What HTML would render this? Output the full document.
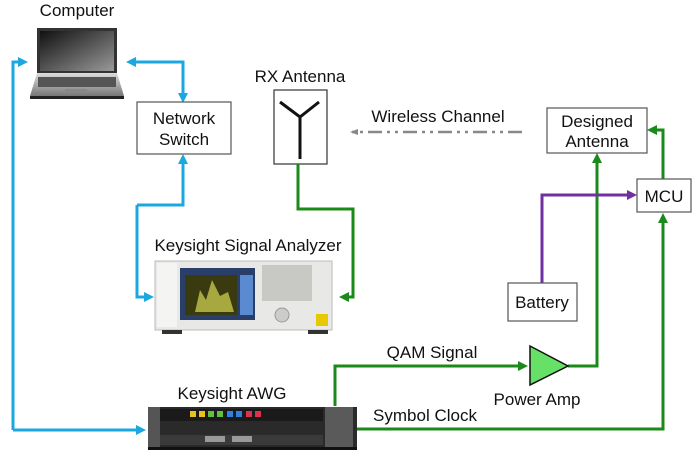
<!DOCTYPE html>
<html><head><meta charset="utf-8"><style>
body{margin:0;background:#fff;width:698px;height:459px;overflow:hidden}
text{font-family:"Liberation Sans",Arial,sans-serif;font-size:17px;fill:#111}
</style></head><body>
<svg width="698" height="459" viewBox="0 0 698 459" xmlns="http://www.w3.org/2000/svg">
<defs>
<marker id="ab" markerWidth="10" markerHeight="10" refX="7" refY="5" orient="auto" markerUnits="userSpaceOnUse"><path d="M0,0 L10,5 L0,10 Z" fill="#1ba8e0"/></marker>
<marker id="ag" markerWidth="10" markerHeight="10" refX="7" refY="5" orient="auto" markerUnits="userSpaceOnUse"><path d="M0,0 L10,5 L0,10 Z" fill="#1a8a1a"/></marker>
<marker id="ap" markerWidth="10" markerHeight="10" refX="7" refY="5" orient="auto" markerUnits="userSpaceOnUse"><path d="M0,0 L10,5 L0,10 Z" fill="#7030a0"/></marker>
<marker id="agr" markerWidth="8" markerHeight="8" refX="6" refY="4" orient="auto" markerUnits="userSpaceOnUse"><path d="M0,1 L8,4 L0,7 Z" fill="#888"/></marker>
<linearGradient id="scr" x1="0" y1="0" x2="1" y2="1"><stop offset="0" stop-color="#111"/><stop offset="0.5" stop-color="#555"/><stop offset="1" stop-color="#999"/></linearGradient>
<linearGradient id="base" x1="0" y1="0" x2="0" y2="1"><stop offset="0" stop-color="#ddd"/><stop offset="1" stop-color="#777"/></linearGradient>
</defs>

<text x="77" y="16" text-anchor="middle">Computer</text>
<path d="M37,28 L117,28 L117,73 L37,73 Z" fill="#333"/>
<rect x="40" y="31" width="74" height="40" fill="url(#scr)"/>
<path d="M37,73 L117,73 L124,96 L30,96 Z" fill="url(#base)"/>
<rect x="38" y="77" width="78" height="10" fill="#555"/>
<rect x="65" y="89" width="22" height="4" fill="#888"/>
<rect x="30" y="96" width="94" height="3" fill="#222"/>

<g fill="none" stroke="#1ba8e0" stroke-width="3">
<path d="M13,430 L13,62 L25,62" marker-end="url(#ab)"/>
<path d="M183,100 L183,62 L129,62" marker-end="url(#ab)"/>
<path d="M183,62 L183,100" marker-end="url(#ab)"/>
<path d="M137,205 L183,205 L183,157" marker-end="url(#ab)"/>
<path d="M137,205 L137,297 L151,297" marker-end="url(#ab)"/>
<path d="M13,430 L143,430" marker-end="url(#ab)"/>
</g>

<rect x="137" y="102" width="94" height="52" fill="#fff" stroke="#555" stroke-width="1.2"/>
<text x="184" y="124" text-anchor="middle">Network</text>
<text x="184" y="145" text-anchor="middle">Switch</text>

<text x="300" y="82" text-anchor="middle">RX Antenna</text>
<rect x="274" y="90" width="53" height="74" fill="#fff" stroke="#333" stroke-width="1.2"/>
<path d="M280,102 L300,117 L319,102 M300,117 L300,159" fill="none" stroke="#111" stroke-width="3"/>

<g fill="none" stroke="#1a8a1a" stroke-width="3">
<path d="M298,164 L298,209 L353,209 L353,297 L342,297" marker-end="url(#ag)"/>
<path d="M335,406 L335,366 L525,366" marker-end="url(#ag)"/>
<path d="M568,366 L597,366 L597,156" marker-end="url(#ag)"/>
<path d="M663,179 L663,130 L650,130" marker-end="url(#ag)"/>
<path d="M357,429 L663,429 L663,216" marker-end="url(#ag)"/>
</g>
<path d="M542,283 L542,195 L634,195" fill="none" stroke="#7030a0" stroke-width="3" marker-end="url(#ap)"/>

<text x="248" y="251" text-anchor="middle">Keysight Signal Analyzer</text>
<rect x="155" y="261" width="177" height="69" fill="#e8e8e6" stroke="#bbb"/>
<rect x="157" y="263" width="20" height="64" fill="#f4f4f2"/>
<rect x="180" y="268" width="75" height="52" fill="#2a3e6a"/>
<rect x="185" y="275" width="52" height="40" fill="#3a3a10"/>
<path d="M195,312 L200,290 L206,300 L212,280 L220,296 L228,292 L234,312 Z" fill="#a8a840"/>
<rect x="240" y="275" width="13" height="40" fill="#5a8ad0"/>
<rect x="262" y="265" width="50" height="36" fill="#c8c8c4"/>
<circle cx="282" cy="315" r="7" fill="#ccc" stroke="#999"/>
<rect x="316" y="314" width="12" height="12" fill="#e8c800"/>
<rect x="162" y="330" width="20" height="4" fill="#333"/>
<rect x="308" y="330" width="20" height="4" fill="#333"/>

<text x="438" y="122" text-anchor="middle">Wireless Channel</text>
<path d="M522,132 L352,132" fill="none" stroke="#888" stroke-width="2.5" stroke-dasharray="14,5,3,5,3,5" marker-end="url(#agr)"/>

<rect x="547" y="108" width="100" height="45" fill="#fff" stroke="#555" stroke-width="1.2"/>
<text x="597" y="127" text-anchor="middle">Designed</text>
<text x="597" y="147" text-anchor="middle">Antenna</text>

<rect x="637" y="179" width="54" height="33" fill="#fff" stroke="#555" stroke-width="1.2"/>
<text x="664" y="202" text-anchor="middle">MCU</text>

<rect x="508" y="283" width="69" height="38" fill="#fff" stroke="#555" stroke-width="1.2"/>
<text x="542" y="308" text-anchor="middle">Battery</text>

<path d="M530,346 L568,366 L530,385 Z" fill="#66e066" stroke="#111" stroke-width="1.5"/>
<text x="537" y="405" text-anchor="middle">Power Amp</text>
<text x="432" y="358" text-anchor="middle">QAM Signal</text>
<text x="425" y="421" text-anchor="middle">Symbol Clock</text>

<text x="232" y="399" text-anchor="middle">Keysight AWG</text>
<rect x="148" y="407" width="209" height="40" fill="#2a2a2a"/>
<rect x="148" y="407" width="12" height="40" fill="#555"/>
<rect x="325" y="407" width="28" height="40" fill="#5a5a5a"/>
<rect x="160" y="409" width="163" height="12" fill="#1a1a1a"/>
<g>
<rect x="190" y="411" width="6" height="6" fill="#e8c020"/><rect x="199" y="411" width="6" height="6" fill="#e8c020"/>
<rect x="208" y="411" width="6" height="6" fill="#60c040"/><rect x="217" y="411" width="6" height="6" fill="#60c040"/>
<rect x="227" y="411" width="6" height="6" fill="#3080e0"/><rect x="236" y="411" width="6" height="6" fill="#3080e0"/>
<rect x="246" y="411" width="6" height="6" fill="#e03050"/><rect x="255" y="411" width="6" height="6" fill="#e03050"/>
</g>
<rect x="160" y="435" width="163" height="10" fill="#3a3a3a"/>
<rect x="205" y="436" width="20" height="6" fill="#999"/>
<rect x="232" y="436" width="20" height="6" fill="#999"/>
<rect x="148" y="447" width="209" height="3" fill="#111"/>
</svg>
</body></html>
